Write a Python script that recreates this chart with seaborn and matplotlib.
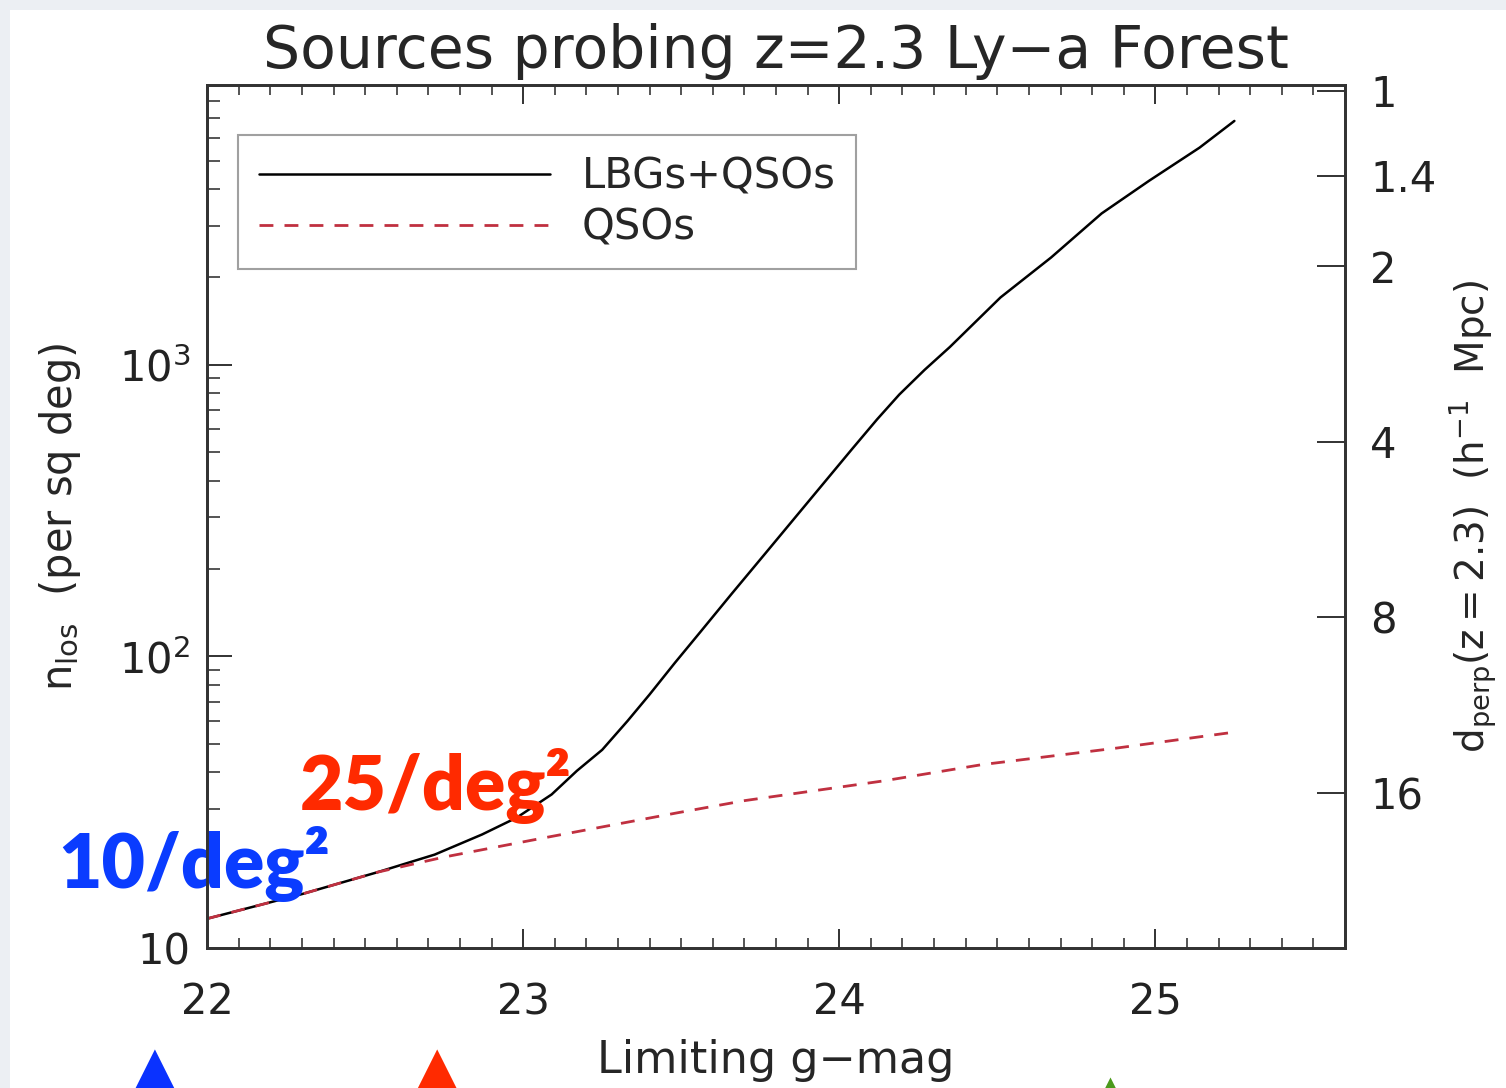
import numpy as np
import pandas as pd
import seaborn as sns
import matplotlib.pyplot as plt
import matplotlib.transforms as mtransforms
from matplotlib.patches import Rectangle
from matplotlib.ticker import MultipleLocator, FixedLocator, FuncFormatter, LogLocator, NullFormatter, NullLocator

# LBGs+QSOs (black solid)
gmag_all = [22.00, 22.30, 22.54, 22.72, 22.87, 22.98, 23.09, 23.17, 23.25, 23.33,
            23.40, 23.48, 23.56, 23.66, 23.77, 23.89, 24.04, 24.12, 24.19, 24.27,
            24.35, 24.51, 24.67, 24.83, 24.98, 25.14, 25.25]
n_all = [12.6, 15.3, 18.2, 20.9, 24.5, 28.0, 33.6, 40.5, 47.8, 60.0,
         74.0, 95.0, 121, 164, 228, 327, 513, 650, 790, 960,
         1150, 1700, 2330, 3300, 4270, 5550, 6850]

# QSOs only (red dashed)
gmag_qso = [22.00, 22.30, 22.54, 22.75, 23.07, 23.49, 23.70, 24.14, 24.45, 24.88, 25.23]
n_qso = [12.6, 15.3, 18.2, 20.5, 23.9, 29.1, 32.0, 37.4, 42.5, 48.5, 54.6]

# right axis ticks d_perp (h^-1 Mpc)
dperp_ticks = [1, 1.4, 2, 4, 8, 16]
dperp_labels = ['1', '1.4', '2', '4', '8', '16']

# arrows under the x axis
marker_gmag = [21.835, 22.728, 24.857]
marker_color = ['#0a32ff', '#ff2a00', '#4c9a1c']

sns.set_theme(style="ticks")
plt.rcParams['font.family'] = ['DejaVu Sans']
plt.rcParams['mathtext.fontset'] = 'dejavusans'

df_all = pd.DataFrame({'gmag': gmag_all, 'n': n_all})
df_qso = pd.DataFrame({'gmag': gmag_qso, 'n': n_qso})

fig = plt.figure(figsize=(15.06, 10.88), dpi=100)
fig.add_artist(Rectangle((0, 0), 10 / 1506, 1, transform=fig.transFigure, color='#eceff3', lw=0))
fig.add_artist(Rectangle((0, 1 - 10 / 1088), 1, 10 / 1088, transform=fig.transFigure, color='#eceff3', lw=0))
ax = fig.add_axes([0.1375, 0.1287, 0.7556, 0.7932])

sns.lineplot(data=df_all, x='gmag', y='n', ax=ax, color='black', lw=1.8,
             label='LBGs+QSOs', sort=False, estimator=None)
sns.lineplot(data=df_qso, x='gmag', y='n', ax=ax, color='#c03040', lw=2.0,
             linestyle=(0, (5, 4)), label='QSOs', sort=False, estimator=None)

ax.set_yscale('log')
ax.set_xlim(22, 25.6)
ax.set_ylim(10, 9100)

ax.xaxis.set_major_locator(MultipleLocator(1))
ax.xaxis.set_minor_locator(MultipleLocator(0.1))
ax.yaxis.set_major_locator(FixedLocator([10, 100, 1000]))
ax.yaxis.set_minor_locator(LogLocator(base=10, subs=np.arange(2, 10)))
ax.yaxis.set_minor_formatter(NullFormatter())
ax.yaxis.set_major_formatter(FuncFormatter(
    lambda v, p: '10' if v < 50 else r'$\mathregular{10^{%d}}$' % round(np.log10(v))))

ax.tick_params(axis='x', which='major', direction='in', top=True, bottom=True,
               length=14, width=1.3, labelsize=30, pad=24, colors='#222')
ax.tick_params(axis='x', which='minor', direction='in', top=True, bottom=True,
               length=7, width=1.1)
ax.tick_params(axis='y', which='major', direction='in', left=True, right=False,
               length=18, width=1.3, labelsize=30, pad=12, colors='#222')
ax.tick_params(axis='y', which='minor', direction='in', left=True, right=False,
               length=9, width=1.1)

for s in ax.spines.values():
    s.set_visible(True)
    s.set_color('#333333')
    s.set_linewidth(2)

ax.set_xlabel('Limiting g\u2212mag', fontsize=32, labelpad=11)
ax.set_ylabel(r'$\mathregular{n_{los}}$  (per sq deg)', fontsize=30, labelpad=26)
ax.set_title('Sources probing z=2.3 Ly\u2212a Forest', fontsize=42, pad=12)

leg = ax.legend(loc='upper left', bbox_to_anchor=(0.027, 0.942), borderaxespad=0,
                fontsize=30, handlelength=7, handletextpad=0.75, borderpad=0.5,
                labelspacing=0.2, fancybox=False, frameon=True)
leg.get_frame().set_edgecolor('#888888')
leg.get_frame().set_linewidth(1.5)

# right axis: transverse separation d_perp = C / sqrt(n)
C = np.sqrt(8700.0)
ax2 = ax.twinx()
ax2.set_yscale('log')
lo, hi = ax.get_ylim()
ax2.set_ylim(C / np.sqrt(lo), C / np.sqrt(hi))
ax2.yaxis.set_major_locator(FixedLocator(dperp_ticks))
ax2.yaxis.set_major_formatter(FuncFormatter(lambda v, p: dperp_labels[p] if p is not None and p < len(dperp_labels) else ''))
ax2.yaxis.set_minor_locator(NullLocator())
ax2.tick_params(axis='y', which='major', direction='in', right=True, length=20,
                width=1.3, labelsize=30, pad=18, colors='#222')
for s in ax2.spines.values():
    s.set_visible(True)
    s.set_color('#333333')
    s.set_linewidth(2)
ax2.set_ylabel(r'$\mathregular{d_{perp}(z=2.3)}$  $\mathregular{(h^{-1}}$  $\mathregular{Mpc)}$',
               fontsize=28, labelpad=8)

# annotations
ax.text(21.53, 16.1, '10/deg\u00b2', color='#0a3cff', fontsize=54, fontweight='heavy',
        family=['Lato', 'DejaVu Sans'], va='baseline', ha='left', clip_on=False, zorder=5)
ax.text(22.294, 29.8, '25/deg\u00b2', color='#ff2a00', fontsize=54, fontweight='heavy',
        family=['Lato', 'DejaVu Sans'], va='baseline', ha='left', clip_on=False, zorder=5)

trans = mtransforms.blended_transform_factory(ax.transData, ax.transAxes)
ax.scatter(marker_gmag[:2], [-0.141, -0.141], marker='^', s=850, c=marker_color[:2],
           transform=trans, clip_on=False, linewidths=0, zorder=5)
ax.scatter(marker_gmag[2:], [-0.163], marker='^', s=300, c=marker_color[2:],
           transform=trans, clip_on=False, linewidths=0, zorder=5)

plt.savefig('out.png', dpi=100)
